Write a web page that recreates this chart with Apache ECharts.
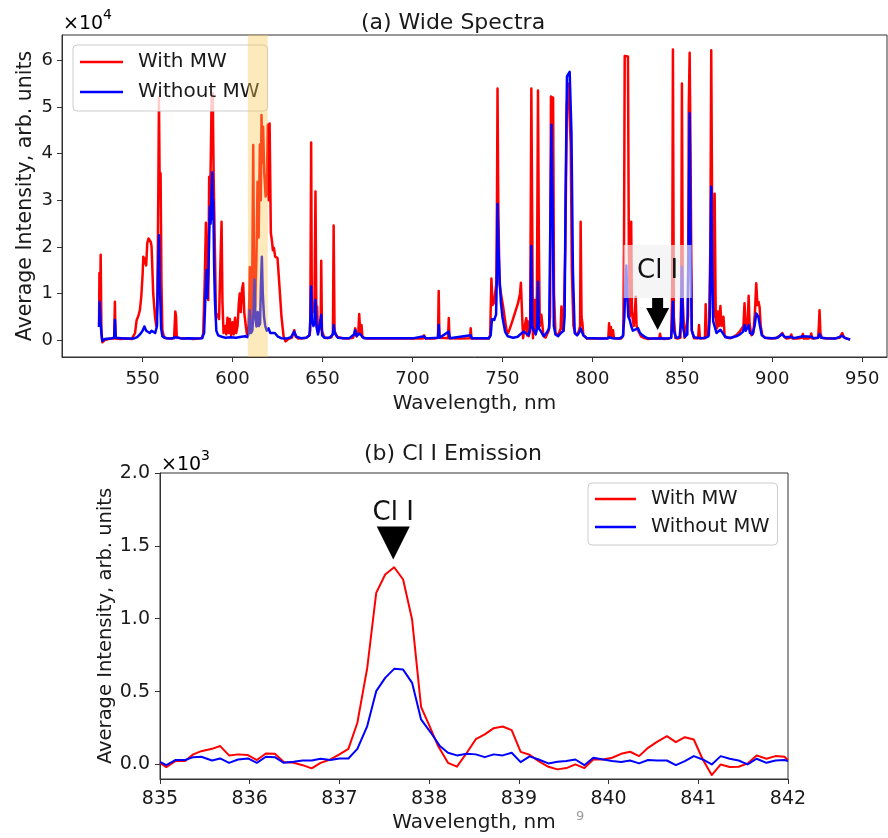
<!DOCTYPE html>
<html>
<head>
<meta charset="utf-8">
<script src="https://cdn.jsdelivr.net/npm/echarts@6/dist/echarts.min.js"></script>
<style>
  html, body { margin: 0; padding: 0; background: #ffffff; }
  #chart { width: 888px; height: 838px; }
</style>
</head>
<body>
<div id="chart"></div>
<script>
// ---- (a) wide spectra: [wavelength nm, average intensity] ----
const wideWithMW = [
  [525.8, 2800], [526.0, 14400], [526.3, 6000], [526.7, 18300], [527.1, 2000], [527.6, -500], [529, 0], [531, 200],
  [533, 300], [534.2, 300], [534.6, 8200], [535.0, 300], [538, 200], [541, 300], [544, 200], [545.8, 1500],
  [546.7, 4300], [547.5, 5000], [548.5, 6400], [549.3, 9500], [550.0, 14000], [550.4, 17900], [551.0, 16500],
  [551.5, 17500], [552.0, 16000], [552.6, 20800], [553.3, 21800], [554.1, 22200], [554.6, 21000], [555.0, 20000],
  [555.9, 10000], [556.9, 5000], [557.6, 3000], [558.2, 8000], [558.7, 30000], [559.1, 52000], [559.5, 33000],
  [560.0, 35800], [560.5, 12000], [561.0, 2100], [562, 500], [565, 300], [567.5, 400], [568.2, 6100], [568.6, 5000],
  [569.0, 600], [572, 300], [575, 400], [578, 200], [581, 300], [583.2, 500], [583.7, 1500], [584.5, 12000],
  [585.2, 25200], [585.8, 15000], [586.5, 8600], [587.0, 35000], [587.5, 30000], [587.9, 38700], [588.4, 53000],
  [588.7, 40000], [589.0, 53000], [589.5, 35000], [590.2, 19300], [590.8, 5000], [591.5, 5500], [592.5, 4500],
  [593.5, 20000], [593.9, 25400], [594.4, 8000], [595.0, 1500], [595.8, 3000], [596.5, 1200], [597.2, 4800],
  [597.8, 1500], [598.5, 4500], [599.2, 1000], [600.0, 3800], [600.7, 1200], [601.4, 4800], [602.0, 1500],
  [602.8, 3000], [603.5, 8000], [604.0, 10000], [604.6, 6000], [605.3, 11000], [605.9, 12200], [606.5, 6000],
  [607.4, 2900], [608.0, 1200], [608.8, 2000], [609.3, 8000], [609.6, 15700], [610.1, 4000], [610.8, 5000],
  [611.5, 41900], [612.0, 12000], [612.6, 7200], [613.3, 18000], [613.9, 34000], [614.5, 22000], [615.2, 42000],
  [615.7, 30000], [616.1, 48300], [616.6, 38000], [617.0, 45800], [617.6, 36000], [618.4, 30800], [619.0, 32000],
  [619.6, 46200], [620.1, 30000], [620.6, 46500], [621.3, 23000], [622.0, 21000], [622.4, 19300], [623.0, 19800],
  [623.7, 17900], [625.0, 17600], [626.0, 12000], [627.2, 5000], [628.4, 700], [629.5, -300], [631, 200], [633, 500],
  [634.3, 2100], [635.0, 800], [636.5, 300], [639, 400], [641, 500], [642.6, 1000], [643.2, 2000], [643.7, 42400],
  [644.1, 5000], [644.8, 8000], [645.5, 6000], [646.1, 31900], [646.6, 5000], [647.0, 7200], [647.5, 1500],
  [648.4, 1200], [649.0, 3000], [649.3, 17000], [649.7, 2000], [651, 500], [653, 400], [655, 600], [655.8, 1500],
  [656.2, 24600], [656.7, 2000], [658, 700], [661, 400], [664, 300], [667, 500], [667.8, 1500], [668.2, 2500],
  [669.0, 800], [669.9, 1500], [670.4, 5600], [671.0, 1500], [671.7, 3200], [672.2, 600], [675, 300], [680, 300],
  [690, 300], [700, 300], [705.8, 300], [706.5, 1000], [707.2, 300], [712, 300], [714.2, 500], [714.6, 10500],
  [715.0, 500], [719.8, 400], [720.2, 4700], [720.6, 400], [726, 300], [732.0, 400], [732.4, 2500], [732.8, 300],
  [738, 300], [742.3, 300], [742.6, 700], [743.2, 1000], [743.9, 13200], [744.5, 7500], [745.3, 8000], [746.0, 8000],
  [746.6, 12000], [747.0, 30000], [747.3, 54000], [747.7, 30000], [748.4, 12000], [749.5, 9300], [750.4, 7200],
  [751.2, 5000], [752.3, 2100], [753.2, 1500], [754.2, 2500], [755.5, 4000], [756.9, 5700], [758.7, 7900],
  [759.8, 10000], [760.3, 12300], [760.9, 6000], [761.5, 400], [762.3, 500], [762.9, 4000], [763.3, 4700],
  [763.8, 1000], [764.2, 4000], [764.6, 800], [765.4, 2000], [765.8, 30000], [766.1, 54000], [766.5, 30000],
  [767.0, 400], [767.5, 6000], [767.9, 8600], [768.5, 2000], [769.2, 10000], [769.8, 53600], [770.3, 20000],
  [770.8, 3000], [771.7, 5400], [772.2, 5400], [772.8, 1000], [774.0, 500], [775.7, 2000], [776.5, 5000],
  [777.0, 52300], [778.2, 52000], [778.7, 10000], [779.5, 1500], [781, 1000], [782.4, 2500], [782.8, 7200],
  [783.2, 2500], [784.0, 2000], [785.0, 20000], [785.8, 50000], [786.6, 55100], [787.4, 55000], [788.0, 42000],
  [788.6, 15000], [789.5, 3000], [790.5, 1500], [792, 1200], [793.2, 3000], [793.5, 25400], [794.0, 5000],
  [794.5, 3600], [795.0, 1000], [797, 300], [800, 400], [803, 300], [806, 300], [808.9, 400], [809.3, 3600],
  [809.8, 500], [810.3, 2800], [810.8, 500], [811.5, 2100], [812, 400], [814, 300], [816, 300], [817.2, 1000],
  [817.6, 20000], [818.0, 61000], [819.8, 60900], [820.3, 20000], [820.8, 5000], [821.3, 10000], [821.6, 25400],
  [822.0, 6000], [823.0, 3000], [823.8, 7200], [824.1, 9300], [824.6, 3000], [825.5, 2000], [827, 800], [829, 400],
  [831, 200], [833, 300], [835, 300], [837.2, 300], [837.6, 1350], [838.2, 300], [840, 200], [842, 300],
  [843.8, 500], [844.4, 10000], [844.8, 62400], [845.3, 5000], [846.2, 400], [847.5, 300], [849.0, 500],
  [849.4, 10000], [849.8, 55100], [850.3, 8000], [851.2, 500], [852.3, 400], [853.2, 5000], [853.6, 50000],
  [854.1, 61700], [854.6, 40000], [855.3, 2000], [856.5, 400], [858.8, 400], [859.3, 3200], [859.8, 400],
  [862.6, 400], [863.0, 7700], [863.5, 1000], [864.8, 1000], [865.6, 20000], [866.1, 62200], [866.7, 20000],
  [867.4, 5000], [868.0, 31400], [868.6, 5000], [869.3, 2500], [869.8, 6100], [870.3, 3000], [871.2, 7300],
  [871.8, 3000], [872.9, 5000], [873.5, 1000], [875, 500], [877, 400], [879, 800], [880.5, 1200], [881.9, 1800],
  [883.0, 2000], [884.0, 3000], [884.6, 7900], [885.2, 3000], [886.3, 3500], [886.9, 9500], [887.4, 3500],
  [888.5, 1000], [889.5, 1500], [890.4, 6000], [891.1, 12200], [891.8, 7500], [892.4, 8200], [893.0, 7000],
  [893.6, 3000], [894.5, 1000], [896, 500], [899, 300], [902, 400], [904.5, 1000], [905.6, 1500], [906.5, 800],
  [908, 300], [910.0, 500], [910.6, 1200], [911.3, 300], [914, 300], [916.5, 500], [917.0, 1300], [917.6, 300],
  [920, 300], [921.2, 500], [921.7, 1400], [922.2, 300], [925.5, 500], [926.0, 3500], [926.3, 6400], [926.8, 1500],
  [927.5, 500], [930, 300], [934, 300], [937.5, 500], [938.9, 1500], [939.8, 600], [941.5, 300], [943.3, 100]
];

const wideWithoutMW = [
  [525.8, 2800], [526.1, 8200], [526.6, 4000], [527.2, 1000], [527.6, -200], [529, 200], [532, 300], [534.2, 500],
  [534.6, 4300], [535.1, 500], [538, 400], [541, 300], [545, 300], [547, 600], [548.5, 1200], [550.0, 2000],
  [551.0, 2900], [552.0, 2000], [553.0, 2200], [554.0, 1500], [555.0, 2000], [556.0, 2200], [557.0, 1500],
  [558.0, 3000], [558.6, 15000], [559.1, 22500], [559.6, 12000], [560.3, 2500], [561.0, 800], [563, 400], [566, 300],
  [568.3, 600], [569, 300], [572, 300], [576, 400], [580, 300], [583, 400], [584.2, 1500], [584.8, 8000],
  [585.5, 15000], [586.0, 9000], [586.6, 15000], [587.0, 22000], [587.4, 28600], [587.8, 25000], [588.2, 30000],
  [588.7, 36000], [589.0, 26000], [589.3, 30000], [589.8, 15000], [590.2, 8600], [591.0, 2000], [592.0, 1000],
  [594, 700], [596, 500], [599, 600], [602, 500], [605, 700], [607, 800], [608.3, 600], [609.0, 1500],
  [609.6, 6400], [610.2, 1500], [611.0, 2000], [611.7, 6000], [612.2, 13000], [612.7, 5000], [613.3, 2900],
  [614.0, 6000], [614.6, 3000], [615.3, 3500], [615.8, 12000], [616.3, 17900], [616.8, 10000], [617.5, 5000],
  [618.2, 3000], [619.0, 2000], [620.0, 2500], [621.0, 1500], [622.0, 1200], [623.5, 1500], [625.0, 800],
  [627, 400], [630, 300], [632.5, 600], [634.3, 1800], [635.5, 700], [638, 400], [641, 500], [642.8, 1000],
  [643.3, 5000], [643.7, 11500], [644.2, 4000], [645.0, 3000], [645.6, 4000], [646.1, 8600], [646.6, 3000],
  [647.5, 1200], [648.6, 1500], [649.3, 5400], [649.8, 1000], [651, 500], [654, 500], [655.8, 1200], [656.2, 3200],
  [656.8, 1500], [658.5, 500], [662, 400], [665, 400], [667.5, 1200], [668.2, 2100], [669.0, 800], [670.4, 1400],
  [671.5, 1000], [673, 400], [680, 350], [690, 350], [700, 350], [706.5, 800], [707.5, 350], [714.2, 500],
  [714.6, 3200], [715.1, 500], [720.2, 1800], [720.7, 400], [732.4, 1000], [733, 350], [742.5, 350], [743.5, 1000],
  [744.2, 4500], [745.5, 4300], [746.5, 5500], [747.0, 15000], [747.3, 29200], [747.8, 20000], [748.5, 12900],
  [749.2, 8000], [750.0, 5000], [751.5, 1800], [753, 800], [756, 500], [758.5, 700], [760.5, 1400], [762.0, 1800],
  [763.0, 1500], [764.5, 1000], [765.5, 2500], [766.1, 20200], [766.6, 3000], [767.5, 2000], [768.5, 1200],
  [769.3, 2500], [769.8, 12500], [770.3, 2500], [771.5, 1800], [773, 800], [774.5, 1500], [776.0, 2500],
  [776.8, 30000], [777.3, 46200], [777.9, 30000], [778.6, 3000], [779.5, 1200], [781, 800], [782.5, 1500],
  [784.0, 2000], [784.6, 5000], [785.1, 30000], [785.9, 56600], [787.4, 57600], [788.4, 44400], [789.2, 15000],
  [790.2, 1500], [791.5, 1000], [793.0, 1800], [793.5, 2500], [794.3, 2500], [795.0, 1000], [797, 400], [800, 350],
  [804, 300], [808, 300], [809.3, 600], [811, 400], [815, 300], [817.0, 800], [817.8, 5000], [818.4, 12000],
  [818.9, 16000], [819.5, 9000], [820.0, 5000], [820.8, 4300], [821.6, 3000], [822.5, 2000], [823.5, 1800],
  [825.4, 2500], [826.5, 1500], [828.0, 1000], [830, 500], [832, 300], [835, 300], [837.2, 350], [837.6, 650],
  [838.2, 350], [842, 300], [843.8, 500], [844.3, 3000], [844.8, 8200], [845.3, 2000], [846.5, 500], [848.5, 600],
  [849.3, 4000], [849.8, 15700], [850.3, 3000], [851.5, 700], [852.8, 1200], [853.5, 20000], [854.1, 48700],
  [854.6, 20000], [855.3, 2000], [856.5, 600], [860, 400], [863, 500], [864.5, 800], [865.3, 5000], [866.1, 32900],
  [866.6, 15000], [867.2, 4000], [868.0, 2900], [869.0, 1500], [870.0, 1500], [871.2, 2200], [872.5, 1500],
  [874, 600], [877, 500], [880, 800], [882, 1200], [883.8, 1800], [884.6, 3200], [885.3, 2000], [886.9, 3200],
  [887.6, 1500], [889.0, 1200], [890.2, 3000], [891.1, 5700], [892.3, 5000], [893.2, 3000], [894.2, 1000],
  [896, 500], [900, 400], [903, 500], [905.5, 1300], [907, 600], [910.6, 700], [912, 400], [917.0, 800], [918, 400],
  [921.7, 700], [923, 400], [925.5, 500], [926.3, 1300], [927.2, 500], [930, 400], [935, 300], [938.9, 900],
  [940.5, 400], [943.3, 100]
];

const wideTicksX = [550, 600, 650, 700, 750, 800, 850, 900, 950];
const wideTicksY = [0, 10000, 20000, 30000, 40000, 50000, 60000];

// ---- (b) Cl I emission line around 837.6 nm ----
const clWithMW = [
  [835.00, 11], [835.07, -18], [835.17, 23], [835.28, 23], [835.37, 69], [835.46, 91], [835.58, 107], [835.67, 126],
  [835.77, 62], [835.87, 69], [835.98, 64], [836.08, 30], [836.18, 75], [836.28, 73], [836.38, 16], [836.49, 11],
  [836.59, -5], [836.69, -27], [836.79, 11], [836.90, 34], [837.00, 69], [837.10, 107], [837.20, 286], [837.31, 663],
  [837.41, 1177], [837.51, 1303], [837.61, 1353], [837.71, 1269], [837.81, 994], [837.91, 395], [838.00, 270],
  [838.10, 126], [838.21, 11], [838.31, -15], [838.42, 80], [838.52, 173], [838.62, 206], [838.72, 249], [838.82, 260],
  [838.92, 235], [839.02, 86], [839.12, 66], [839.22, 23], [839.33, -16], [839.43, -34], [839.53, -25], [839.63, 0],
  [839.73, -25], [839.83, 34], [839.94, 34], [840.04, 46], [840.14, 73], [840.24, 87], [840.34, 57], [840.44, 114],
  [840.54, 155], [840.65, 194], [840.75, 153], [840.85, 187], [840.95, 171], [841.05, 34], [841.15, -73], [841.25, 0],
  [841.35, -18], [841.45, -16], [841.55, 7], [841.65, 62], [841.76, 39], [841.86, 57], [841.96, 53], [842.00, 30]
];

const clWithoutMW = [
  [835.00, 18], [835.07, -5], [835.17, 30], [835.28, 30], [835.37, 50], [835.46, 53], [835.58, 27], [835.67, 41],
  [835.77, 11], [835.87, 34], [835.98, 41], [836.08, 11], [836.18, 53], [836.28, 50], [836.38, 11], [836.49, 18],
  [836.59, 27], [836.69, 27], [836.79, 39], [836.90, 30], [837.00, 41], [837.10, 41], [837.20, 107], [837.31, 263],
  [837.41, 503], [837.51, 594], [837.61, 656], [837.71, 651], [837.81, 560], [837.91, 309], [838.02, 217],
  [838.12, 126], [838.21, 80], [838.31, 62], [838.42, 73], [838.52, 69], [838.62, 50], [838.72, 69], [838.82, 62],
  [838.92, 80], [839.02, 16], [839.12, 55], [839.22, 34], [839.33, 7], [839.43, 18], [839.53, 23], [839.63, 34],
  [839.73, -5], [839.83, 46], [839.94, 34], [840.04, 23], [840.14, 16], [840.24, 27], [840.34, 7], [840.44, 30],
  [840.54, 27], [840.65, 27], [840.75, -5], [840.85, 23], [840.95, 57], [841.05, 34], [841.15, 0], [841.25, 57],
  [841.35, 39], [841.45, 27], [841.55, 0], [841.65, 39], [841.76, 11], [841.86, 27], [841.96, 30], [842.00, 23]
];

const clTicksX = [835, 836, 837, 838, 839, 840, 841, 842];
const clTicksY = [0, 500, 1000, 1500, 2000];

const seriesNames = ['With MW', 'Without MW'];
const seriesColors = ['#ff0000', '#0000ff'];

// ---- shared styling helpers ----
const FONT = '"DejaVu Sans", sans-serif';
const INK = '#1a1a1a';
const SPINE = '#333333';

function valueAxis(opts) {
  return Object.assign({
    type: 'value',
    scale: false,
    splitLine: { show: false },
    axisLine: { show: true, onZero: false, lineStyle: { color: SPINE, width: 1 } },
    nameLocation: 'middle'
  }, opts);
}

function ticks(values) {
  return { show: true, inside: false, length: 5, customValues: values, lineStyle: { color: SPINE, width: 1 } };
}

function lineSeries(name, data, color, width, axisIdx, z) {
  return {
    type: 'line',
    name: name,
    data: data,
    xAxisIndex: axisIdx,
    yAxisIndex: axisIdx,
    showSymbol: false,
    symbol: 'none',
    z: z,
    lineStyle: { color: color, width: width, join: 'round' },
    itemStyle: { color: color },
    emphasis: { disabled: true },
    animation: false
  };
}

function legendBox(left, top, fontSize, itemWidth, padding, itemGap) {
  return {
    orient: 'vertical',
    left: left,
    top: top,
    data: seriesNames,
    icon: 'rect',
    itemWidth: itemWidth,
    itemHeight: 2.5,
    itemGap: itemGap,
    padding: padding,
    backgroundColor: 'rgba(255,255,255,0.8)',
    borderColor: '#cccccc',
    borderWidth: 1,
    borderRadius: 4,
    selectedMode: false,
    textStyle: {
      fontFamily: FONT,
      fontSize: fontSize,
      lineHeight: fontSize,
      color: INK,
      padding: [0, 0, 0, 10]
    }
  };
}

// offset-exponent text (×10ⁿ) drawn above each value axis
function exponentText(left, top, power) {
  return {
    type: 'text', left: left, top: top,
    style: {
      text: '{a|×10}{b|' + power + '}',
      rich: {
        a: { fontFamily: FONT, fontSize: 19, lineHeight: 26, verticalAlign: 'bottom', color: INK },
        b: { fontFamily: FONT, fontSize: 14, lineHeight: 26, verticalAlign: 'top', color: INK }
      }
    }
  };
}

const option = {
  animation: false,
  backgroundColor: '#ffffff',
  title: [
    { text: '(a) Wide Spectra', left: 448, top: 7, textAlign: 'center',
      textStyle: { fontFamily: FONT, fontSize: 22, fontWeight: 'normal', color: INK } },
    { text: '(b) Cl I Emission', left: 448, top: 438, textAlign: 'center',
      textStyle: { fontFamily: FONT, fontSize: 22, fontWeight: 'normal', color: INK } }
  ],
  legend: [
    legendBox(73, 45, 20, 43, [7, 8, 9, 7], 10),
    legendBox(588, 483, 19.5, 41, [6, 8, 8, 7], 8)
  ],
  grid: [
    { left: 62, top: 35, width: 825, height: 322, show: true, borderColor: SPINE, borderWidth: 1, backgroundColor: 'transparent' },
    { left: 160, top: 473, width: 628, height: 306, show: true, borderColor: SPINE, borderWidth: 1, backgroundColor: 'transparent' }
  ],
  xAxis: [
    valueAxis({
      gridIndex: 0, min: 505.2, max: 963.8,
      name: 'Wavelength, nm', nameGap: 37,
      nameTextStyle: { fontFamily: FONT, fontSize: 20, color: INK },
      axisTick: ticks(wideTicksX),
      axisLabel: { customValues: wideTicksX, fontFamily: FONT, fontSize: 18, color: INK, margin: 13 }
    }),
    valueAxis({
      gridIndex: 1, min: 835, max: 842,
      name: 'Wavelength, nm', nameGap: 34,
      nameTextStyle: { fontFamily: FONT, fontSize: 20, color: INK },
      axisTick: ticks(clTicksX),
      axisLabel: { customValues: clTicksX, fontFamily: FONT, fontSize: 19, color: INK, margin: 11 }
    })
  ],
  yAxis: [
    valueAxis({
      gridIndex: 0, min: -3650, max: 65500,
      name: 'Average Intensity, arb. units', nameGap: 26, nameMoveOverlap: false,
      nameTextStyle: { fontFamily: FONT, fontSize: 20.5, color: INK },
      axisTick: ticks(wideTicksY),
      axisLabel: { customValues: wideTicksY, fontFamily: FONT, fontSize: 18, color: INK, margin: 9,
        formatter: v => String(Math.round(v / 10000)) }
    }),
    valueAxis({
      gridIndex: 1, min: -100, max: 2000,
      name: 'Average Intensity, arb. units', nameGap: 44, nameMoveOverlap: false,
      nameTextStyle: { fontFamily: FONT, fontSize: 19.5, color: INK },
      axisTick: ticks(clTicksY),
      axisLabel: { customValues: clTicksY, fontFamily: FONT, fontSize: 19, color: INK, margin: 10,
        formatter: v => (v / 1000).toFixed(1) }
    })
  ],
  series: [
    lineSeries(seriesNames[0], wideWithMW, seriesColors[0], 2.5, 0, 2),
    lineSeries(seriesNames[1], wideWithoutMW, seriesColors[1], 2.5, 0, 3),
    lineSeries(seriesNames[0], clWithMW, seriesColors[0], 2, 1, 2),
    lineSeries(seriesNames[1], clWithoutMW, seriesColors[1], 2, 1, 3),
    // highlighted band, Cl I callout box and arrow on the wide spectrum
    {
      type: 'line', xAxisIndex: 0, yAxisIndex: 0, data: [], z: 6, silent: true,
      markArea: {
        silent: true,
        z: 6,
        data: [
          [{ xAxis: 608.5, itemStyle: { color: 'rgba(250,200,80,0.38)' } }, { xAxis: 619.6 }],
          [{ coord: [817.4, 20400], itemStyle: { color: 'rgba(240,240,240,0.65)' },
             label: { show: true, position: 'inside', formatter: 'Cl I', fontFamily: FONT, fontSize: 26, color: '#111' } },
           { coord: [855.2, 9000] }]
        ],
        label: { show: false }
      },
      markPoint: {
        silent: true,
        z: 7,
        data: [{
          coord: [836.3, 2150],
          symbol: 'path://M6,0 L17,0 L17,10 L23,10 L11.5,32 L0,10 L6,10 Z',
          symbolSize: [23, 32],
          symbolOffset: [0, '-50%'],
          itemStyle: { color: '#000000' },
          label: { show: false }
        }]
      }
    },
    // Cl I marker above the emission peak
    {
      type: 'line', xAxisIndex: 1, yAxisIndex: 1, data: [], z: 6, silent: true,
      markPoint: {
        silent: true,
        z: 7,
        data: [{
          coord: [837.6, 1406],
          symbol: 'path://M0,0 L33,0 L16.5,33 Z',
          symbolSize: [33, 33],
          symbolOffset: [0, '-50%'],
          itemStyle: { color: '#000000' },
          label: { show: true, position: 'top', distance: 0, formatter: 'Cl I',
            fontFamily: FONT, fontSize: 26, color: '#111' }
        }]
      }
    }
  ],
  graphic: [
    exponentText(63, 8, 4),
    exponentText(161, 449, 3),
    { type: 'text', left: 576, top: 810, style: { text: '9', font: '13px "DejaVu Sans", sans-serif', fill: '#9a9a9a' } }
  ]
};

const chart = echarts.init(document.getElementById('chart'), null, { renderer: 'canvas' });
chart.setOption(option);
</script>
</body>
</html>
